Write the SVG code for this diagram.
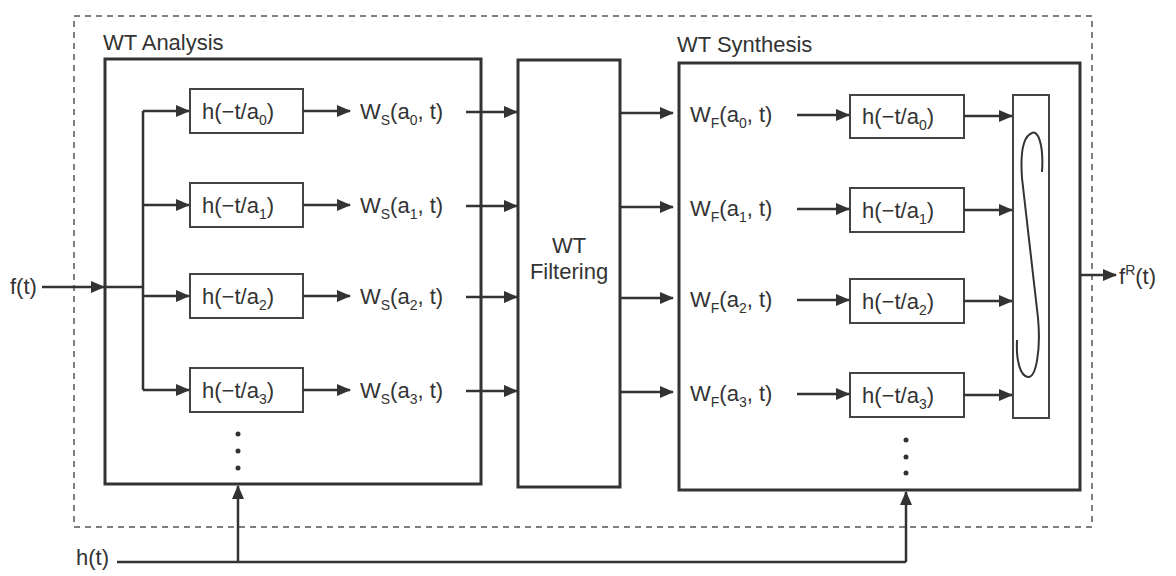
<svg xmlns="http://www.w3.org/2000/svg" width="1176" height="576" viewBox="0 0 1176 576">
<style>
.t{font-family:"Liberation Sans",Arial,sans-serif;font-size:22px;fill:#333}
.s{font-size:14px}
.big{fill:none;stroke:#333;stroke-width:3}
.box{fill:#fff;stroke:#444;stroke-width:2}
.ln{fill:none;stroke:#333;stroke-width:2.5}
.ar{fill:none;stroke:#333;stroke-width:2.5;marker-end:url(#ah)}
.dot{fill:#333}
</style>
<defs>
<marker id="ah" viewBox="0 0 14 12" refX="13" refY="6" markerWidth="14" markerHeight="12" markerUnits="userSpaceOnUse" orient="auto">
<path d="M0,0 L14,6 L0,12 Z" fill="#333"/>
</marker>
</defs>
<rect x="74" y="16" width="1018" height="511" fill="none" stroke="#555" stroke-width="1.5" stroke-dasharray="6,5"/>

<g id="analysis">
<rect x="105" y="59" width="376" height="425" class="big"/>
<text x="103" y="50" class="t">WT Analysis</text>
</g>
<g id="a0"><rect x="190" y="89" width="113" height="44" class="box"/><text x="202" y="119" class="t">h(−t/a<tspan class="s" dy="6">0</tspan><tspan dy="-6">)</tspan></text></g>
<g id="a1"><rect x="190" y="183" width="113" height="44" class="box"/><text x="202" y="213" class="t">h(−t/a<tspan class="s" dy="6">1</tspan><tspan dy="-6">)</tspan></text></g>
<g id="a2"><rect x="190" y="274" width="113" height="44" class="box"/><text x="202" y="304" class="t">h(−t/a<tspan class="s" dy="6">2</tspan><tspan dy="-6">)</tspan></text></g>
<g id="a3"><rect x="190" y="368" width="113" height="44" class="box"/><text x="202" y="398" class="t">h(−t/a<tspan class="s" dy="6">3</tspan><tspan dy="-6">)</tspan></text></g>
<g id="ws0"><text x="360" y="119" class="t">W<tspan class="s" dy="6">S</tspan><tspan dy="-6">(a</tspan><tspan class="s" dy="6">0</tspan><tspan dy="-6">, t)</tspan></text></g>
<g id="ws1"><text x="360" y="213" class="t">W<tspan class="s" dy="6">S</tspan><tspan dy="-6">(a</tspan><tspan class="s" dy="6">1</tspan><tspan dy="-6">, t)</tspan></text></g>
<g id="ws2"><text x="360" y="304" class="t">W<tspan class="s" dy="6">S</tspan><tspan dy="-6">(a</tspan><tspan class="s" dy="6">2</tspan><tspan dy="-6">, t)</tspan></text></g>
<g id="ws3"><text x="360" y="398" class="t">W<tspan class="s" dy="6">S</tspan><tspan dy="-6">(a</tspan><tspan class="s" dy="6">3</tspan><tspan dy="-6">, t)</tspan></text></g>
<g id="adots"><circle cx="238" cy="434" r="2.5" class="dot"/><circle cx="238" cy="451" r="2.5" class="dot"/><circle cx="238" cy="468" r="2.5" class="dot"/></g>

<g id="filter">
<rect x="518" y="60" width="102" height="427" class="big"/>
<text x="569" y="253" class="t" text-anchor="middle">WT</text>
<text x="569" y="279" class="t" text-anchor="middle">Filtering</text>
</g>

<g id="synthesis">
<rect x="679" y="63" width="401" height="427" class="big"/>
<text x="677" y="52" class="t">WT Synthesis</text>
</g>
<g id="wf0"><text x="690" y="122" class="t">W<tspan class="s" dy="6">F</tspan><tspan dy="-6">(a</tspan><tspan class="s" dy="6">0</tspan><tspan dy="-6">, t)</tspan></text></g>
<g id="wf1"><text x="690" y="216" class="t">W<tspan class="s" dy="6">F</tspan><tspan dy="-6">(a</tspan><tspan class="s" dy="6">1</tspan><tspan dy="-6">, t)</tspan></text></g>
<g id="wf2"><text x="690" y="307" class="t">W<tspan class="s" dy="6">F</tspan><tspan dy="-6">(a</tspan><tspan class="s" dy="6">2</tspan><tspan dy="-6">, t)</tspan></text></g>
<g id="wf3"><text x="690" y="401" class="t">W<tspan class="s" dy="6">F</tspan><tspan dy="-6">(a</tspan><tspan class="s" dy="6">3</tspan><tspan dy="-6">, t)</tspan></text></g>
<g id="s0"><rect x="850" y="95" width="114" height="43" class="box"/><text x="862" y="124" class="t">h(−t/a<tspan class="s" dy="6">0</tspan><tspan dy="-6">)</tspan></text></g>
<g id="s1"><rect x="850" y="188" width="114" height="44" class="box"/><text x="862" y="218" class="t">h(−t/a<tspan class="s" dy="6">1</tspan><tspan dy="-6">)</tspan></text></g>
<g id="s2"><rect x="850" y="279" width="114" height="44" class="box"/><text x="862" y="309" class="t">h(−t/a<tspan class="s" dy="6">2</tspan><tspan dy="-6">)</tspan></text></g>
<g id="s3"><rect x="850" y="373" width="114" height="44" class="box"/><text x="862" y="403" class="t">h(−t/a<tspan class="s" dy="6">3</tspan><tspan dy="-6">)</tspan></text></g>
<g id="sdots"><circle cx="906" cy="440" r="2.5" class="dot"/><circle cx="906" cy="457" r="2.5" class="dot"/><circle cx="906" cy="473" r="2.5" class="dot"/></g>
<g id="integral">
<rect x="1013" y="95" width="36" height="323" class="box"/>
<path d="M1042,172 C1044,142 1037,130 1032,133 C1024,136 1020,150 1022,178 L1038,318 C1041,350 1036,378 1028,377 C1020,376 1016,360 1017,340" fill="none" stroke="#333" stroke-width="2"/>
</g>

<g id="labels">
<text x="10" y="294" class="t">f(t)</text>
<text x="76" y="565" class="t">h(t)</text>
<text x="1119" y="284" class="t">f<tspan class="s" dy="-9">R</tspan><tspan dy="9">(t)</tspan></text>
</g>

<g id="connectors">
<path d="M42,287 L104,287" class="ar"/>
<path d="M104,287 L143,287" class="ln"/>
<path d="M143,111 L143,390" class="ln"/>
<path d="M143,111 L189,111" class="ar"/>
<path d="M143,205 L189,205" class="ar"/>
<path d="M143,296 L189,296" class="ar"/>
<path d="M143,390 L189,390" class="ar"/>
<path d="M303,111 L350,111" class="ar"/>
<path d="M303,205 L350,205" class="ar"/>
<path d="M303,296 L350,296" class="ar"/>
<path d="M303,390 L350,390" class="ar"/>
<path d="M466,112 L517,112" class="ar"/>
<path d="M466,206 L517,206" class="ar"/>
<path d="M466,297 L517,297" class="ar"/>
<path d="M466,391 L517,391" class="ar"/>
<path d="M620,113 L673,113" class="ar"/>
<path d="M620,207 L673,207" class="ar"/>
<path d="M620,298 L673,298" class="ar"/>
<path d="M620,392 L673,392" class="ar"/>
<path d="M797,115 L849,115" class="ar"/>
<path d="M797,209 L849,209" class="ar"/>
<path d="M797,300 L849,300" class="ar"/>
<path d="M797,394 L849,394" class="ar"/>
<path d="M964,116 L1012,116" class="ar"/>
<path d="M964,210 L1012,210" class="ar"/>
<path d="M964,301 L1012,301" class="ar"/>
<path d="M964,395 L1012,395" class="ar"/>
<path d="M1080,275 L1116,275" class="ar"/>
<path d="M117,562 L906,562" class="ln"/>
<path d="M238,562 L238,486" class="ar"/>
<path d="M906,562 L906,492" class="ar"/>
</g>
</svg>
